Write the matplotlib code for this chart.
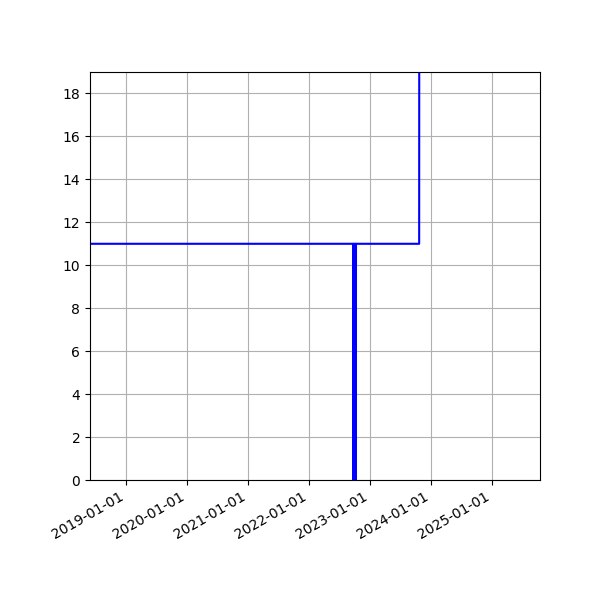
import matplotlib
matplotlib.use("Agg")
import matplotlib.pyplot as plt
import matplotlib.dates as mdates
import numpy as np

# series
dates = ["2018-05-01",
         "2022-09-25", "2022-09-26", "2022-09-27",
         "2022-10-09", "2022-10-10", "2022-10-11",
         "2023-10-25", "2023-10-26"]
values = [11,
          11, 0, 11,
          11, 0, 11,
          11, 30]

x_limits = ["2018-05-29", "2025-10-19"]
y_limits = [0, 19]

fig = plt.figure(figsize=(6, 6), dpi=100)
ax = fig.add_axes([0.15, 0.2, 0.75, 0.68])

ax.plot(np.array(dates, dtype="datetime64[D]"), values, color="blue", linewidth=1.5)

ax.set_xlim(np.array(x_limits, dtype="datetime64[D]"))
ax.set_ylim(*y_limits)
ax.xaxis.set_major_locator(mdates.YearLocator())
ax.xaxis.set_major_formatter(mdates.DateFormatter("%Y-%m-%d"))
ax.set_yticks(np.arange(0, 19, 2))
ax.grid(True)
for lbl in ax.get_xticklabels():
    lbl.set_rotation(30)
    lbl.set_ha("right")

fig.savefig("out.png")
